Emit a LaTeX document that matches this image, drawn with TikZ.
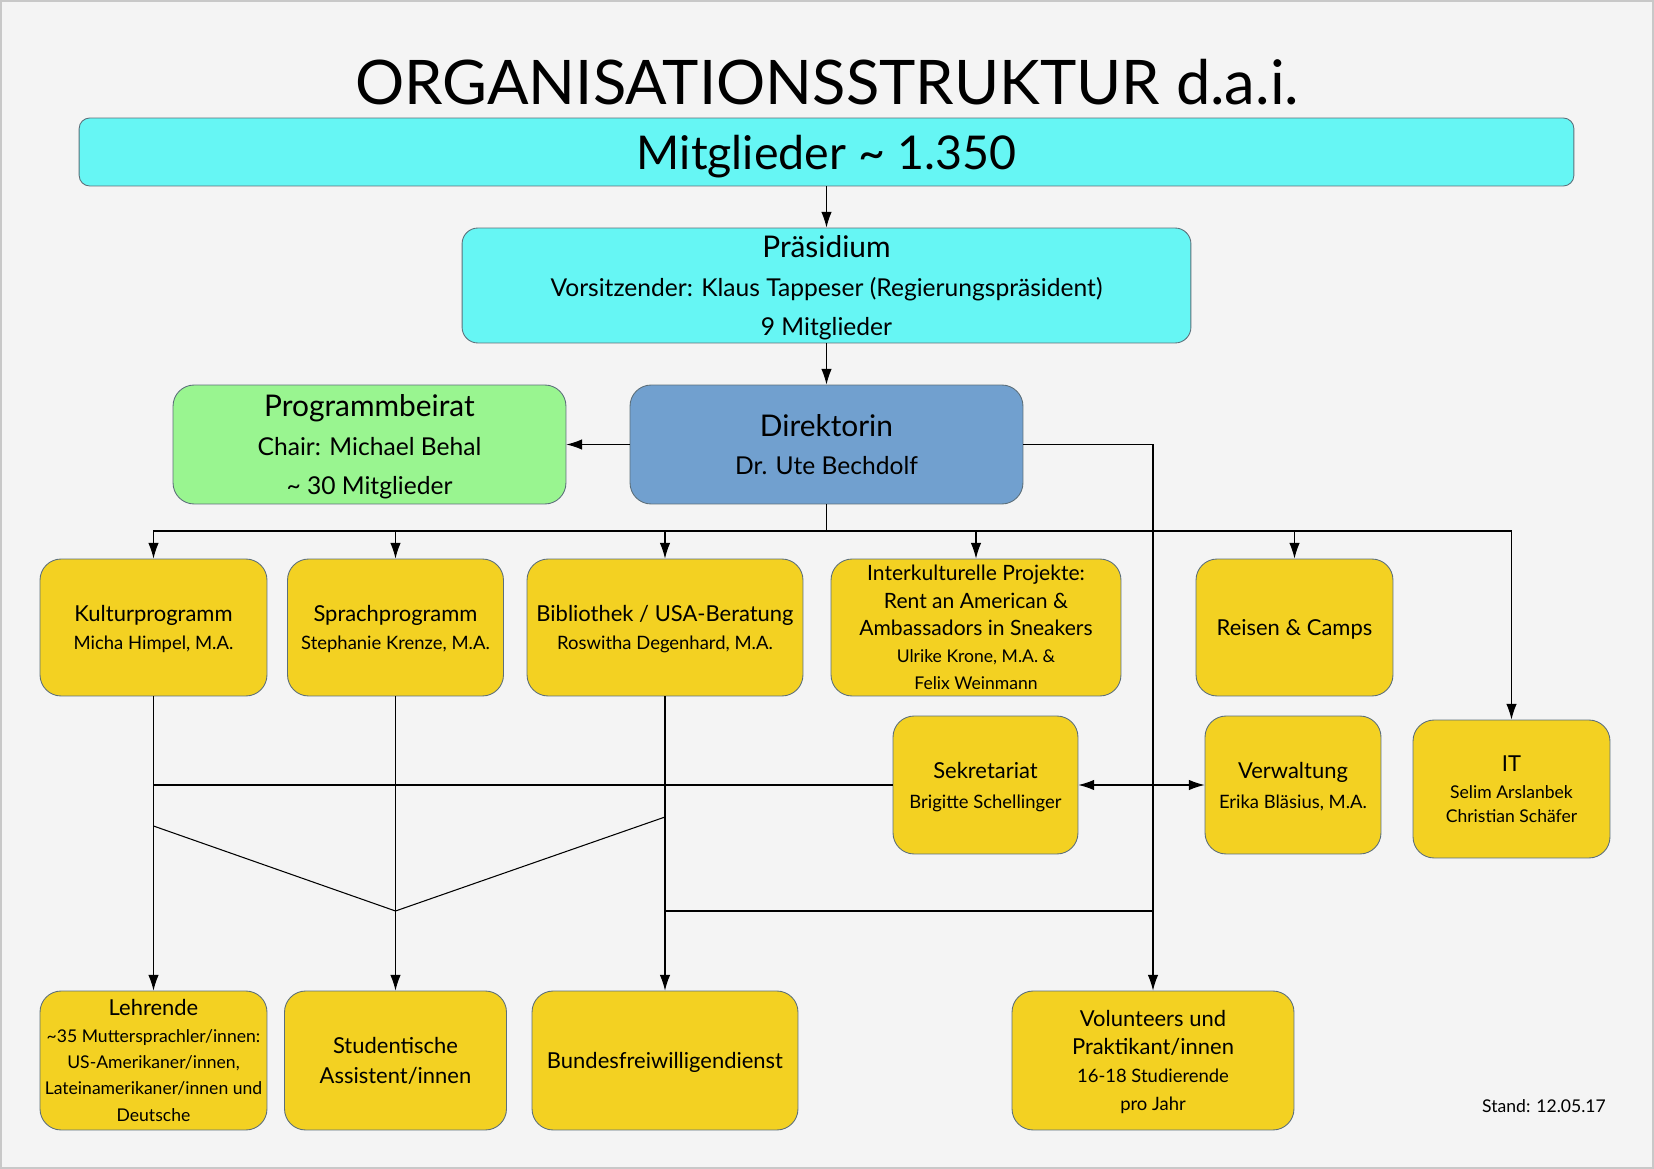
\documentclass[tikz,border=0pt]{standalone}
\usepackage{fontspec}
\setmainfont{Lato}
\usetikzlibrary{arrows.meta,positioning}

\definecolor{hinter}{HTML}{F4F4F4}
\definecolor{rahmen}{HTML}{C8C8C8}
\definecolor{kante}{HTML}{5C6F7A}
\definecolor{tuerkis}{HTML}{66F6F4}
\definecolor{hellgruen}{HTML}{99F590}
\definecolor{stahlblau}{HTML}{71A0CF}
\definecolor{gelb}{HTML}{F3D122}

\newcommand{\titelfont}{\fontsize{35}{40}\selectfont}
\newcommand{\riesig}{\fontsize{26.5}{30}\selectfont}
\newcommand{\gross}{\fontsize{17}{22}\selectfont}
\newcommand{\mittel}{\fontsize{14}{22}\selectfont}
\newcommand{\kopf}{\fontsize{12.5}{16}\selectfont}
\newcommand{\klein}{\fontsize{10.5}{16}\selectfont}

\begin{document}
\begin{tikzpicture}[x=0.02cm,y=-0.02cm,>={Latex[length=9pt,width=6pt]},line width=0.6pt]
  \tikzstyle{box}=[draw=kante,line width=0.5pt,rounded corners=12pt,fill=gelb,align=center,inner sep=1pt,text depth=-2pt,font=\klein]
  \useasboundingbox (0,0) rectangle (1654,1169);
  \fill[hinter,draw=rahmen,line width=1pt] (1,1) rectangle (1653,1168);

  \node (titel) at (827,82) {\titelfont ORGANISATIONSSTRUKTUR d.a.i.};
  \node[box,fill=tuerkis,rounded corners=6pt,minimum width=29.9cm,minimum height=1.36cm,font=\riesig] (mitglieder) at (826.5,152) {Mitglieder \textasciitilde{} 1.350};
  \node[box,fill=tuerkis,rounded corners=9pt,minimum width=14.58cm,minimum height=2.3cm,font=\mittel] (praesidium) at (826.5,285.5) {{\gross Präsidium}\\Vorsitzender: Klaus Tappeser (Regierungspräsident)\\9 Mitglieder};
  \node[box,fill=hellgruen,minimum width=7.86cm,minimum height=2.38cm,font=\mittel] (beirat) at (369.5,444.5) {{\gross Programmbeirat}\\Chair: Michael Behal\\\textasciitilde{} 30 Mitglieder};
  \node[box,fill=stahlblau,minimum width=7.86cm,minimum height=2.38cm,font=\mittel] (direktorin) at (826.5,444.5) {{\gross Direktorin}\\Dr. Ute Bechdolf};

  % Abteilungen
  \node[box,minimum width=4.54cm,minimum height=2.74cm] (kultur) at (153.5,627.5) {{\kopf Kulturprogramm}\\Micha Himpel, M.A.};
  \node[box,minimum width=4.32cm,minimum height=2.74cm] (sprache) at (395.5,627.5) {{\kopf Sprachprogramm}\\Stephanie Krenze, M.A.};
  \node[box,minimum width=5.52cm,minimum height=2.74cm] (bibliothek) at (665,627.5) {{\kopf Bibliothek / USA-Beratung}\\Roswitha Degenhard, M.A.};
  \node[box,minimum width=5.8cm,minimum height=2.74cm,font=\fontsize{10}{15.5}\selectfont] (projekte) at (976,627.5) {{\fontsize{12}{16}\selectfont Interkulturelle Projekte:}\\{\fontsize{12}{16}\selectfont Rent an American \&}\\{\fontsize{12}{16}\selectfont Ambassadors in Sneakers}\\Ulrike Krone, M.A. \&\\Felix Weinmann};
  \node[box,minimum width=3.94cm,minimum height=2.74cm,font=\kopf] (reisen) at (1294.5,627.5) {Reisen \& Camps};
  \node[box,minimum width=3.94cm,minimum height=2.76cm,font=\fontsize{10}{13.5}\selectfont] (it) at (1511.5,789) {{\kopf IT}\\[2pt]Selim Arslanbek\\Christian Schäfer};
  \node[box,minimum width=3.7cm,minimum height=2.76cm,font=\fontsize{10.5}{17}\selectfont] (sekretariat) at (985.5,785) {{\kopf Sekretariat}\\Brigitte Schellinger};
  \node[box,minimum width=3.52cm,minimum height=2.76cm,font=\fontsize{10.5}{17}\selectfont] (verwaltung) at (1293,785) {{\kopf Verwaltung}\\Erika Bläsius, M.A.};

  % untere Reihe
  \node[box,minimum width=4.54cm,minimum height=2.78cm,font=\fontsize{10}{15}\selectfont] (lehrende) at (153.5,1060.5) {{\kopf Lehrende}\\\textasciitilde{}35 Muttersprachler/innen:\\US-Amerikaner/innen,\\Lateinamerikaner/innen und\\Deutsche};
  \node[box,minimum width=4.44cm,minimum height=2.78cm,font=\fontsize{12.5}{17}\selectfont] (studenten) at (395.5,1060.5) {Studentische\\Assistent/innen};
  \node[box,minimum width=5.32cm,minimum height=2.78cm,font=\kopf] (bfd) at (665,1060.5) {Bundesfreiwilligendienst};
  \node[box,minimum width=5.64cm,minimum height=2.78cm,font=\fontsize{10.5}{16}\selectfont] (volunteers) at (1153,1060.5) {{\kopf Volunteers und}\\{\kopf Praktikant/innen}\\16-18 Studierende\\pro Jahr};
  \node[font=\fontsize{10}{12}\selectfont] (stand) at (1544,1106) {Stand: 12.05.17};

  % Verbindungen
  \coordinate (bus) at (826.5,531);
  \coordinate (knick) at (1153,911);
  \coordinate (d1) at (153.5,826);
  \coordinate (d2) at (395.5,911);
  \coordinate (d3) at (665,817);
  \draw[->] (mitglieder) -- (praesidium);
  \draw[->] (praesidium) -- (direktorin);
  \draw[->] (direktorin) -- (beirat);
  \draw (direktorin) -- (bus);
  \foreach \ziel in {kultur,sprache,bibliothek,projekte,reisen,it}
    \draw[->] (bus) -| (\ziel.north);
  \draw[->] (direktorin.east) -| (volunteers.north);
  \draw (knick) -- (bibliothek.south |- knick);
  \draw[->] (kultur) -- (lehrende);
  \draw[->] (sprache) -- (studenten);
  \draw[->] (bibliothek) -- (bfd);
  \draw (sekretariat.west) -- (kultur.south |- sekretariat.west);
  \draw[<->] (sekretariat) -- (verwaltung);
  \draw (d1) -- (d2) -- (d3);
\end{tikzpicture}
\end{document}
